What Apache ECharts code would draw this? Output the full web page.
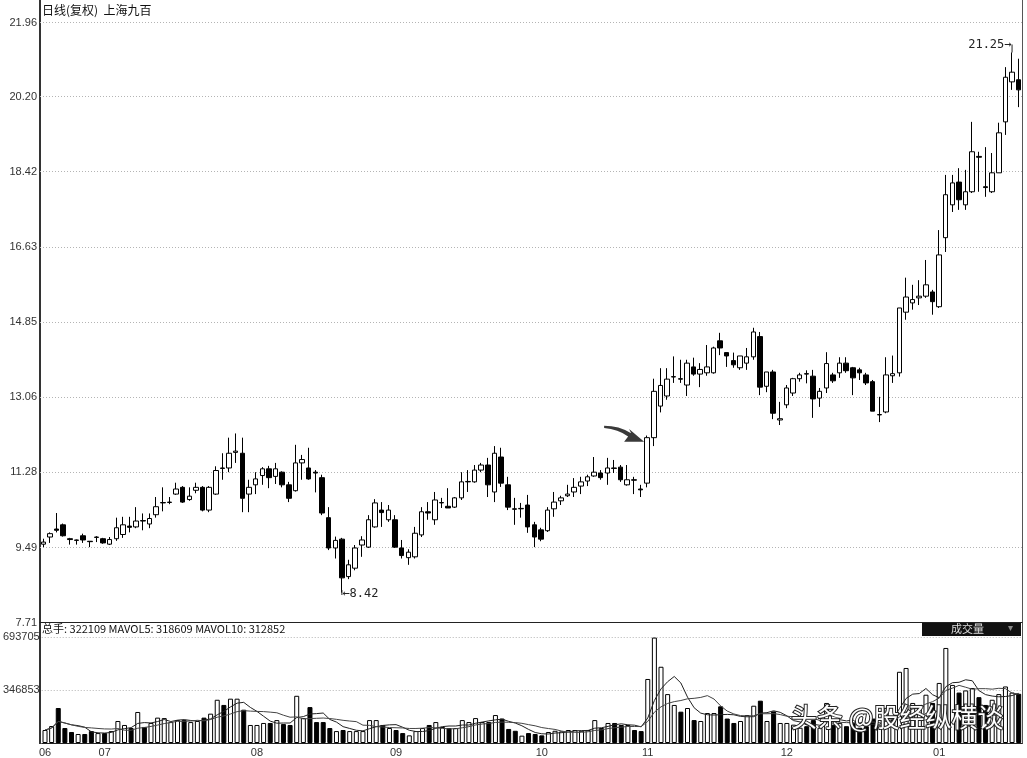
<!DOCTYPE html>
<html><head><meta charset="utf-8">
<script src="https://cdn.jsdelivr.net/npm/echarts@6/dist/echarts.min.js"></script>
<style>html,body{margin:0;padding:0;background:#fff}#c{width:1027px;height:758px}</style>
</head><body><div id="c"></div>
<script>
// [open, close, low, high]
const candleOHLC = [
[9.57,9.62,9.50,9.70],[9.74,9.82,9.60,9.85],[9.93,9.90,9.85,10.31],[10.03,9.77,9.75,10.06],[9.70,9.68,9.56,9.72],
[9.66,9.67,9.56,9.68],[9.77,9.67,9.60,9.82],[9.64,9.63,9.50,9.64],[9.73,9.74,9.62,9.76],[9.70,9.60,9.58,9.72],
[9.57,9.68,9.55,9.74],[9.70,9.96,9.65,10.20],[9.80,10.03,9.72,10.22],[10.00,9.97,9.85,10.22],[9.98,10.12,9.95,10.45],
[10.13,10.12,9.90,10.30],[10.05,10.18,9.95,10.30],[10.27,10.46,10.20,10.69],[10.55,10.56,10.35,10.92],[10.56,10.57,10.52,10.69],
[10.76,10.88,10.74,11.03],[10.92,10.57,10.55,10.95],[10.63,10.71,10.60,10.92],[10.85,10.92,10.78,11.03],[10.92,10.38,10.35,10.95],
[10.38,10.92,10.33,10.95],[10.76,11.32,10.74,11.42],[11.38,11.37,11.10,11.73],[11.38,11.73,11.28,12.10],[11.75,11.78,11.50,12.20],
[11.73,10.66,10.33,12.10],[10.76,10.92,10.33,11.10],[10.98,11.12,10.76,11.28],[11.20,11.36,10.98,11.40],[11.36,11.15,10.90,11.43],
[11.18,11.36,11.00,11.50],[11.28,10.98,10.92,11.30],[10.98,10.66,10.57,11.05],[10.84,11.50,10.82,11.93],[11.50,11.58,11.10,11.69],
[11.38,11.12,11.10,11.86],[11.28,11.26,10.80,11.33],[11.15,10.31,10.26,11.22],[10.20,9.48,9.43,10.45],[9.48,9.66,9.23,9.75],
[9.69,8.77,8.42,9.72],[8.80,9.08,8.74,9.20],[9.00,9.48,8.95,9.55],[9.55,9.67,9.27,9.76],[9.50,10.15,9.48,10.26],
[9.98,10.55,9.96,10.64],[10.38,10.32,9.98,10.57],[10.15,10.38,10.10,10.50],[10.15,9.50,9.48,10.26],[9.48,9.30,9.23,9.67],
[9.25,9.38,9.08,9.45],[9.27,9.83,9.23,9.98],[9.79,10.34,9.74,10.45],[10.34,10.31,10.15,10.57],[10.15,10.62,10.03,10.81],
[10.55,10.56,10.43,10.67],[10.47,10.43,10.43,10.90],[10.45,10.67,10.43,10.69],[10.67,11.05,10.62,11.28],[11.05,11.06,10.81,11.33],
[11.05,11.33,11.03,11.45],[11.33,11.45,11.28,11.50],[11.45,10.98,10.69,11.62],[10.81,11.73,10.57,11.90],[11.64,11.02,10.93,11.86],
[10.98,10.45,10.38,11.17],[10.41,10.40,10.03,10.67],[10.41,10.42,10.20,10.55],[10.50,9.98,9.84,10.74],[10.03,9.74,9.50,10.10],
[9.91,9.69,9.64,9.96],[9.89,10.38,9.86,10.45],[10.41,10.57,10.22,10.81],[10.60,10.67,10.50,10.72],[10.72,10.76,10.69,10.98],
[10.81,10.92,10.69,11.14],[10.95,11.05,10.76,11.17],[11.07,11.17,10.95,11.22],[11.19,11.28,11.17,11.64],[11.26,11.15,11.10,11.33],
[11.26,11.38,10.98,11.62],[11.38,11.37,11.26,11.57],[11.40,11.10,11.05,11.45],[10.98,11.10,10.96,11.45],[11.10,11.09,10.76,11.17],
[10.88,10.86,10.69,10.98],[11.02,12.10,10.92,12.15],[12.10,13.20,11.90,13.50],[12.85,13.34,12.70,13.75],[13.09,13.49,13.00,13.75],
[13.54,13.55,13.40,14.03],[13.50,13.49,13.40,13.95],[13.35,13.87,13.09,13.95],[13.78,13.61,13.57,14.00],[13.61,13.72,13.30,13.87],
[13.64,13.78,13.57,14.30],[13.64,14.23,13.62,14.26],[14.40,14.23,14.06,14.59],[14.12,14.04,13.78,14.12],[13.93,13.83,13.76,14.12],
[13.76,14.04,13.71,14.04],[13.87,14.02,13.71,14.23],[14.02,14.61,13.95,14.71],[14.50,13.30,13.11,14.61],[13.32,13.66,13.18,13.66],
[13.66,12.68,12.54,13.71],[12.52,12.55,12.40,12.95],[12.88,13.28,12.80,13.35],[13.16,13.50,13.09,13.52],[13.50,13.59,13.43,13.64],
[13.62,13.61,13.39,13.70],[13.56,13.02,12.57,13.71],[13.04,13.20,12.83,13.28],[13.28,13.86,13.16,14.13],[13.59,13.45,13.40,13.64],
[13.64,13.87,13.52,14.01],[13.87,13.69,13.64,14.01],[13.76,13.52,13.11,13.78],[13.71,13.64,13.47,13.76],[13.59,13.40,13.35,13.64],
[13.43,12.73,12.73,13.47],[12.64,12.65,12.47,13.07],[12.71,13.59,12.68,14.01],[13.57,13.62,13.40,14.05],[13.64,15.18,13.55,15.18],
[15.08,15.44,14.90,15.90],[15.30,15.38,15.14,15.73],[15.42,15.46,15.25,15.84],[15.46,15.73,15.42,16.32],[15.56,15.33,15.02,15.61],
[15.21,16.44,15.18,17.03],[16.85,17.87,16.51,18.34],[17.63,18.15,17.46,18.34],[18.17,17.75,17.51,18.50],[17.63,17.94,17.51,18.46],
[17.94,18.89,17.91,19.60],[18.78,18.76,17.94,18.89],[18.06,18.04,17.82,19.00],[17.94,18.39,17.91,18.86],[18.39,19.34,18.39,19.58],
[19.60,20.66,19.29,20.90],[20.55,20.78,20.36,21.25],[20.60,20.36,19.95,21.10]
];
const volumes = [
85000,111000,229000,98000,72000,59000,59000,78000,65000,65000,
78000,144000,118000,98000,203000,105000,131000,166000,163000,137000,
150000,150000,137000,144000,166000,192000,283000,249000,290000,290000,
218000,118000,118000,131000,131000,150000,124000,118000,309000,163000,
235000,137000,137000,98000,78000,85000,78000,78000,78000,150000,
150000,118000,98000,85000,65000,50000,78000,98000,118000,137000,
105000,98000,98000,150000,137000,163000,137000,137000,183000,160000,
92000,80000,48000,65000,59000,50000,72000,80000,76000,85000,
85000,80000,85000,150000,98000,131000,131000,118000,118000,85000,
78000,419000,690000,499000,320000,249000,205000,229000,150000,144000,
196000,196000,240000,160000,131000,144000,183000,244000,277000,144000,
207000,131000,131000,120000,100000,110000,150000,100000,262000,120000,
130000,110000,130000,100000,110000,160000,120000,230000,150000,466000,
491000,262000,249000,316000,262000,393000,622000,380000,330000,344000,
360000,300000,249000,283000,320000,370000,330000,322109
];
const priceTicks = [7.71, 9.49, 11.28, 13.06, 14.85, 16.63, 18.42, 20.20, 21.96];
const volTickLabels = ['346853', '693705'];
const monthIndex = [0, 9, 32, 53, 75, 91, 112, 135];
const monthLabels = ['06', '07', '08', '09', '10', '11', '12', '01'];
const titleText = '日线(复权)  上海九百';
const volHeader = '总手: 322109 MAVOL5: 318609 MAVOL10: 312852';
const lowMark = [45, 8.42];
const highMark = [146, 21.25];
const arrowMark = [91, 12.0];

const days = candleOHLC.map((d, i) => String(i));
function ma(n) {
  return volumes.map((v, i) => {
    const s = volumes.slice(Math.max(0, i - n + 1), i + 1);
    return Math.round(s.reduce((a, b) => a + b, 0) / s.length);
  });
}
const volData = volumes.map((v, i) => {
  const up = candleOHLC[i][1] >= candleOHLC[i][0];
  return { value: v, itemStyle: { color: up ? '#fff' : '#000', borderColor: '#000', borderWidth: 1 } };
});

const chart = echarts.init(document.getElementById('c'), null, { renderer: 'canvas' });
const labelFont = { fontFamily: 'Liberation Sans', fontSize: 11, color: '#333' };
chart.setOption({
  animation: false,
  backgroundColor: '#fff',
  grid: [
    { left: 40, top: 22.5, width: 982, height: 600 },
    { left: 40, top: 637, width: 982, height: 106 }
  ],
  xAxis: [
    { type: 'category', gridIndex: 0, data: days, boundaryGap: true,
      axisLine: { show: true, lineStyle: { color: '#222', width: 1 } },
      axisTick: { show: false }, axisLabel: { show: false }, splitLine: { show: false } },
    { type: 'category', gridIndex: 1, data: days, boundaryGap: true,
      axisLine: { show: true, lineStyle: { color: '#222', width: 1 } },
      axisTick: { show: false },
      axisLabel: Object.assign({
        interval: (i) => monthIndex.indexOf(i) >= 0,
        formatter: (v, i) => { const k = monthIndex.indexOf(Number(v)); return k >= 0 ? monthLabels[k] : ''; },
        margin: 4 }, labelFont),
      splitLine: { show: false } }
  ],
  yAxis: [
    { type: 'value', gridIndex: 0, min: 7.71, max: 21.96, scale: true,
      axisLine: { show: false },
      axisTick: { show: false, customValues: priceTicks },
      axisLabel: Object.assign({ customValues: priceTicks, formatter: (v) => v.toFixed(2), margin: 3 }, labelFont),
      splitLine: { show: true, lineStyle: { type: [1, 2], color: '#b4b4b4', width: 1 } } },
    { type: 'value', gridIndex: 1, min: 0, max: 693705, interval: 346852.5,
      axisLine: { show: false }, axisTick: { show: false },
      axisLabel: Object.assign({ showMinLabel: false, margin: 2,
        formatter: (v) => v === 0 ? '' : volTickLabels[Math.round(v / 346852.5) - 1] }, labelFont),
      splitLine: { show: true, lineStyle: { type: [1, 2], color: '#b4b4b4', width: 1 } } }
  ],
  series: [
    { type: 'candlestick', xAxisIndex: 0, yAxisIndex: 0, data: candleOHLC, barWidth: 5,
      itemStyle: { color: '#fff', color0: '#000', borderColor: '#000', borderColor0: '#000', borderWidth: 1 },
      markPoint: {
        silent: true,
        data: [
          { coord: lowMark, symbol: 'rect', symbolSize: [1, 5], symbolOffset: [0, 0],
            itemStyle: { color: '#222' },
            label: { show: true, position: 'right', distance: 0, offset: [0, 1], formatter: '←8.42',
              fontFamily: 'DejaVu Sans Mono', fontSize: 12, color: '#222' } },
          { coord: highMark, symbol: 'rect', symbolSize: [1, 8], symbolOffset: [0, -4],
            itemStyle: { color: '#222' },
            label: { show: true, position: 'left', distance: 0, offset: [0, -4], formatter: '21.25→',
              fontFamily: 'DejaVu Sans Mono', fontSize: 12, color: '#222' } },
          { coord: arrowMark,
            symbol: 'path://M0 1Q15 1 27 8L25 4L40 16L20 16L24 11Q14 4 0 3Z',
            symbolSize: [40, 16], symbolKeepAspect: false, symbolOffset: [-23, -8],
            itemStyle: { color: '#3a3a3a' }, label: { show: false } }
        ]
      } },
    { type: 'bar', xAxisIndex: 1, yAxisIndex: 1, data: volData, barWidth: 5 },
    { type: 'line', xAxisIndex: 1, yAxisIndex: 1, data: ma(5), symbol: 'none',
      lineStyle: { color: '#222', width: 1 } },
    { type: 'line', xAxisIndex: 1, yAxisIndex: 1, data: ma(10), symbol: 'none',
      lineStyle: { color: '#444', width: 1 } }
  ],
  graphic: [
    { type: 'line', shape: { x1: 40, y1: 0, x2: 40, y2: 744 }, style: { stroke: '#333', lineWidth: 2 } },
    { type: 'line', shape: { x1: 1022.5, y1: 0, x2: 1022.5, y2: 744 }, style: { stroke: '#555', lineWidth: 1 } },
    { type: 'text', left: 42, top: 4, style: { text: titleText, font: '12px "Noto Sans CJK SC"', fill: '#111' } },
    { type: 'text', left: 42, top: 623, style: { text: volHeader, font: '11px "Noto Sans CJK SC"', fill: '#111' } },
    { type: 'rect', shape: { x: 922, y: 623, width: 99, height: 13 }, style: { fill: '#111' } },
    { type: 'text', left: 951, top: 623, style: { text: '成交量', font: '11px "Noto Sans CJK SC"', fill: '#ddd' } },
    { type: 'text', left: 1008, top: 623, style: { text: '▾', font: '10px "DejaVu Sans"', fill: '#888' } },
    { type: 'text', left: 790, top: 703, z: 100, style: { text: '头条 @股经纵横谈', font: '26px "Noto Sans CJK SC"', fill: '#fff', stroke: '#222', lineWidth: 2 } }
  ]
});
</script>
</body></html>
